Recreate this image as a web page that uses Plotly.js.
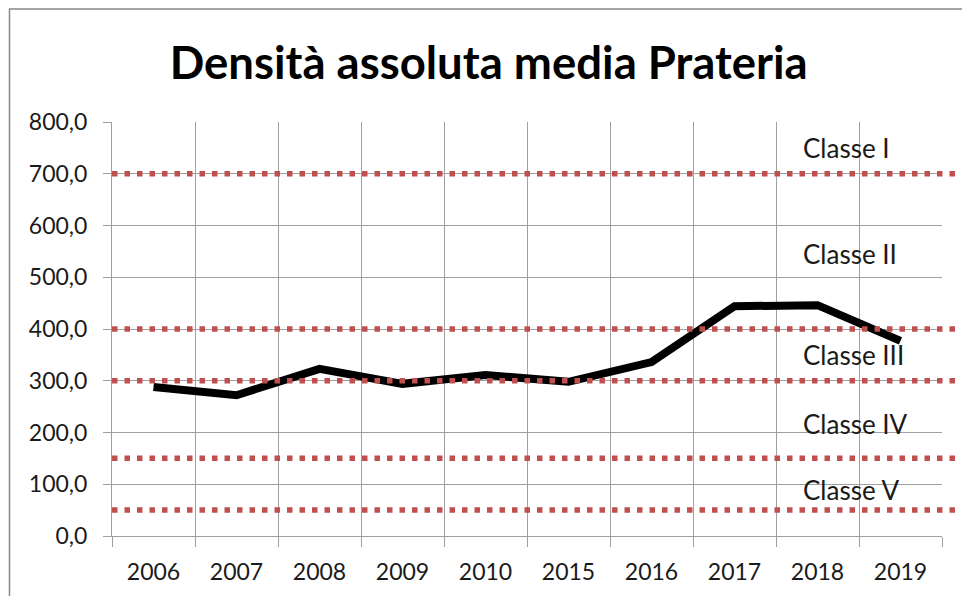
<!DOCTYPE html>
<html>
<head>
<meta charset="utf-8">
<script src="https://cdn.plot.ly/plotly-3.0.1.min.js"></script>
<style>
html,body{margin:0;padding:0;background:#fff;}
#chart{width:962px;height:596px;}
</style>
</head>
<body>
<div id="chart"></div>
<script>
const years = ['2006','2007','2008','2009','2010','2015','2016','2017','2018','2019'];
const density = [288, 272, 323, 294, 311, 298, 336, 444, 446, 377];
const classThresholds = [700, 400, 300, 150, 50];
const classLabels = ['Classe I', 'Classe II', 'Classe III', 'Classe IV', 'Classe V'];
const classLabelY = [750, 545, 350, 216, 89];
const yTicks = [0, 100, 200, 300, 400, 500, 600, 700, 800];

const FONT = 'Lato, "Open Sans", sans-serif';

const shapes = classThresholds.map(v => ({
  type: 'line', xref: 'paper', yref: 'y',
  x0: 0, x1: 1.1, y0: v, y1: v,
  line: {color: '#C0504D', width: 5.5, dash: '5.5px,7px'},
  layer: 'above'
}));
// outer frame
shapes.push({
  type: 'rect', xref: 'paper', yref: 'paper',
  x0: -0.1235, x1: 1.2, y0: -0.3, y1: 1.273,
  line: {color: '#888888', width: 1.5}, fillcolor: 'rgba(0,0,0,0)', layer: 'below'
});

const annotations = classLabels.map((t, i) => ({
  text: t, x: 7.8, y: classLabelY[i], xref: 'x', yref: 'y',
  showarrow: false, xanchor: 'left', yanchor: 'middle',
  font: {family: FONT, size: 26, color: '#1a1a1a'}
}));

const data = [{
  x: years, y: density, type: 'scatter', mode: 'lines',
  line: {color: '#000000', width: 8},
  hoverinfo: 'x+y'
}];

const layout = {
  width: 962, height: 596,
  margin: {l: 112, r: 20, t: 122, b: 60, pad: 0},
  paper_bgcolor: '#ffffff', plot_bgcolor: '#ffffff',
  separators: ',.',
  showlegend: false,
  title: {
    text: '<b>Densità assoluta media Prateria</b>',
    x: 0.508, xref: 'container', xanchor: 'center',
    y: 0.895, yref: 'container', yanchor: 'middle',
    font: {family: FONT, size: 45.5, color: '#000000'}
  },
  xaxis: {
    type: 'category', tickson: 'boundaries',
    showgrid: true, gridcolor: '#a0a0a0', gridwidth: 1,
    ticks: 'outside', ticklen: 10, tickcolor: '#a0a0a0', tickwidth: 1,
    showline: true, linecolor: '#a0a0a0', linewidth: 1,
    tickfont: {family: FONT, size: 23, color: '#1a1a1a'},
    zeroline: false, fixedrange: true, range: [-0.5, 9.5],
    ticklabelstandoff: 15
  },
  yaxis: {
    range: [0, 800], tickvals: yTicks, tickformat: '.1f',
    showgrid: true, gridcolor: '#a0a0a0', gridwidth: 1,
    ticks: 'outside', ticklen: 8, tickcolor: '#a0a0a0', tickwidth: 1,
    showline: true, linecolor: '#a0a0a0', linewidth: 1,
    tickfont: {family: FONT, size: 23, color: '#1a1a1a'},
    zeroline: false, fixedrange: true, ticklabelstandoff: 11
  },
  shapes: shapes,
  annotations: annotations
};

Plotly.newPlot('chart', data, layout, {displayModeBar: false, staticPlot: true});
</script>
</body>
</html>
